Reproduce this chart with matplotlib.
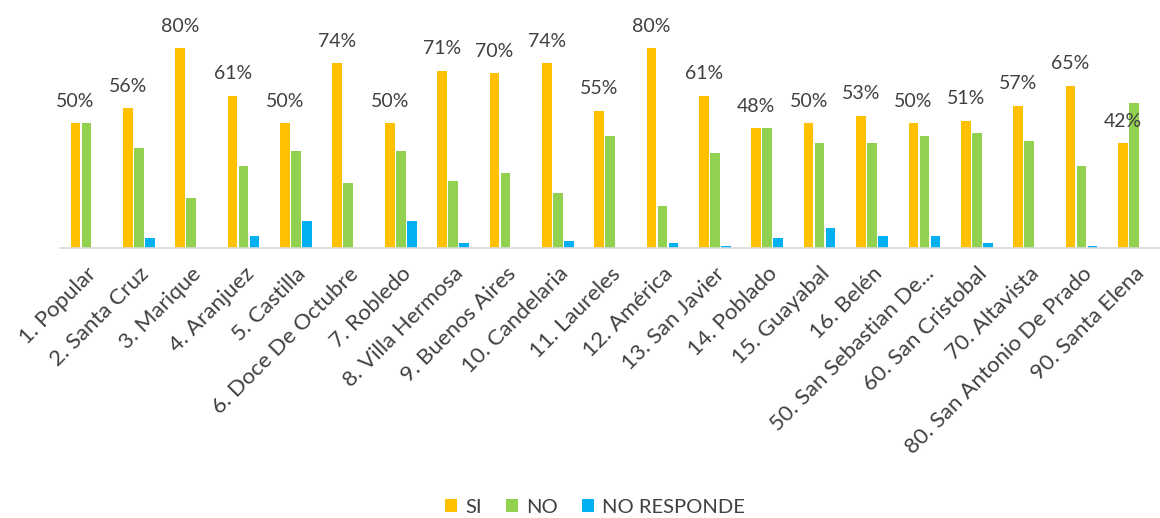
import numpy as np
import matplotlib
matplotlib.use("Agg")
from matplotlib import pyplot as plt

comunas = ["1. Popular", "2. Santa Cruz", "3. Marique", "4. Aranjuez", "5. Castilla",
           "6. Doce De Octubre", "7. Robledo", "8. Villa Hermosa", "9. Buenos Aires",
           "10. Candelaria", "11. Laureles", "12. América", "13. San Javier",
           "14. Poblado", "15. Guayabal", "16. Belén", "50. San Sebastian De...",
           "60. San Cristobal", "70. Altavista", "80. San Antonio De Prado",
           "90. Santa Elena"]
si = [50, 56, 80, 61, 50, 74, 50, 71, 70, 74, 55, 80, 61, 48, 50, 53, 50, 51, 57, 65, 42]
no = [50, 40, 20, 33, 39, 26, 39, 27, 30, 22, 45, 17, 38, 48, 42, 42, 45, 46, 43, 33, 58]
no_responde = [0, 4, 0, 5, 11, 0, 11, 2, 0, 3, 0, 2, 1, 4, 8, 5, 5, 2, 0, 1, 0]

plt.rcParams['font.family'] = ['Lato', 'DejaVu Sans']

fig = plt.figure(figsize=(11.6, 5.18), dpi=100)
ax = fig.add_axes([0.052, 0.5207, 0.948, 0.434])

x = np.arange(len(comunas))
w = 0.185
step = 0.21
b1 = ax.bar(x - step, si, w, color="#FFC000", label="SI")
b2 = ax.bar(x, no, w, color="#92D050", label="NO")
b3 = ax.bar(x + step, no_responde, w, color="#00B0F0", label="NO RESPONDE")

for xi, v in zip(x, si):
    ax.text(xi - step, v + 5.5, f"{v}%", ha="center", va="bottom",
            fontsize=14, color="#404040")

ax.set_xlim(-0.5, len(comunas) - 0.5)
ax.set_ylim(0, 90)
ax.set_yticks([])
for s in ["top", "right", "left"]:
    ax.spines[s].set_visible(False)
ax.spines["bottom"].set_color("#D9D9D9")
ax.spines["bottom"].set_linewidth(1.2)
ax.set_xticks(x)
ax.set_xticklabels(comunas, rotation=45, ha="right", rotation_mode="anchor",
                   fontsize=16, color="#404040")
ax.tick_params(axis="x", length=0, pad=11)

fig.legend(handles=[b1, b2, b3], loc="center", bbox_to_anchor=(0.513, 0.021),
           ncol=3, frameon=False, fontsize=14.5, handlelength=0.6, handleheight=0.6,
           columnspacing=1.2, handletextpad=0.4, labelcolor="#404040")

fig.savefig("out.png", dpi=100)
